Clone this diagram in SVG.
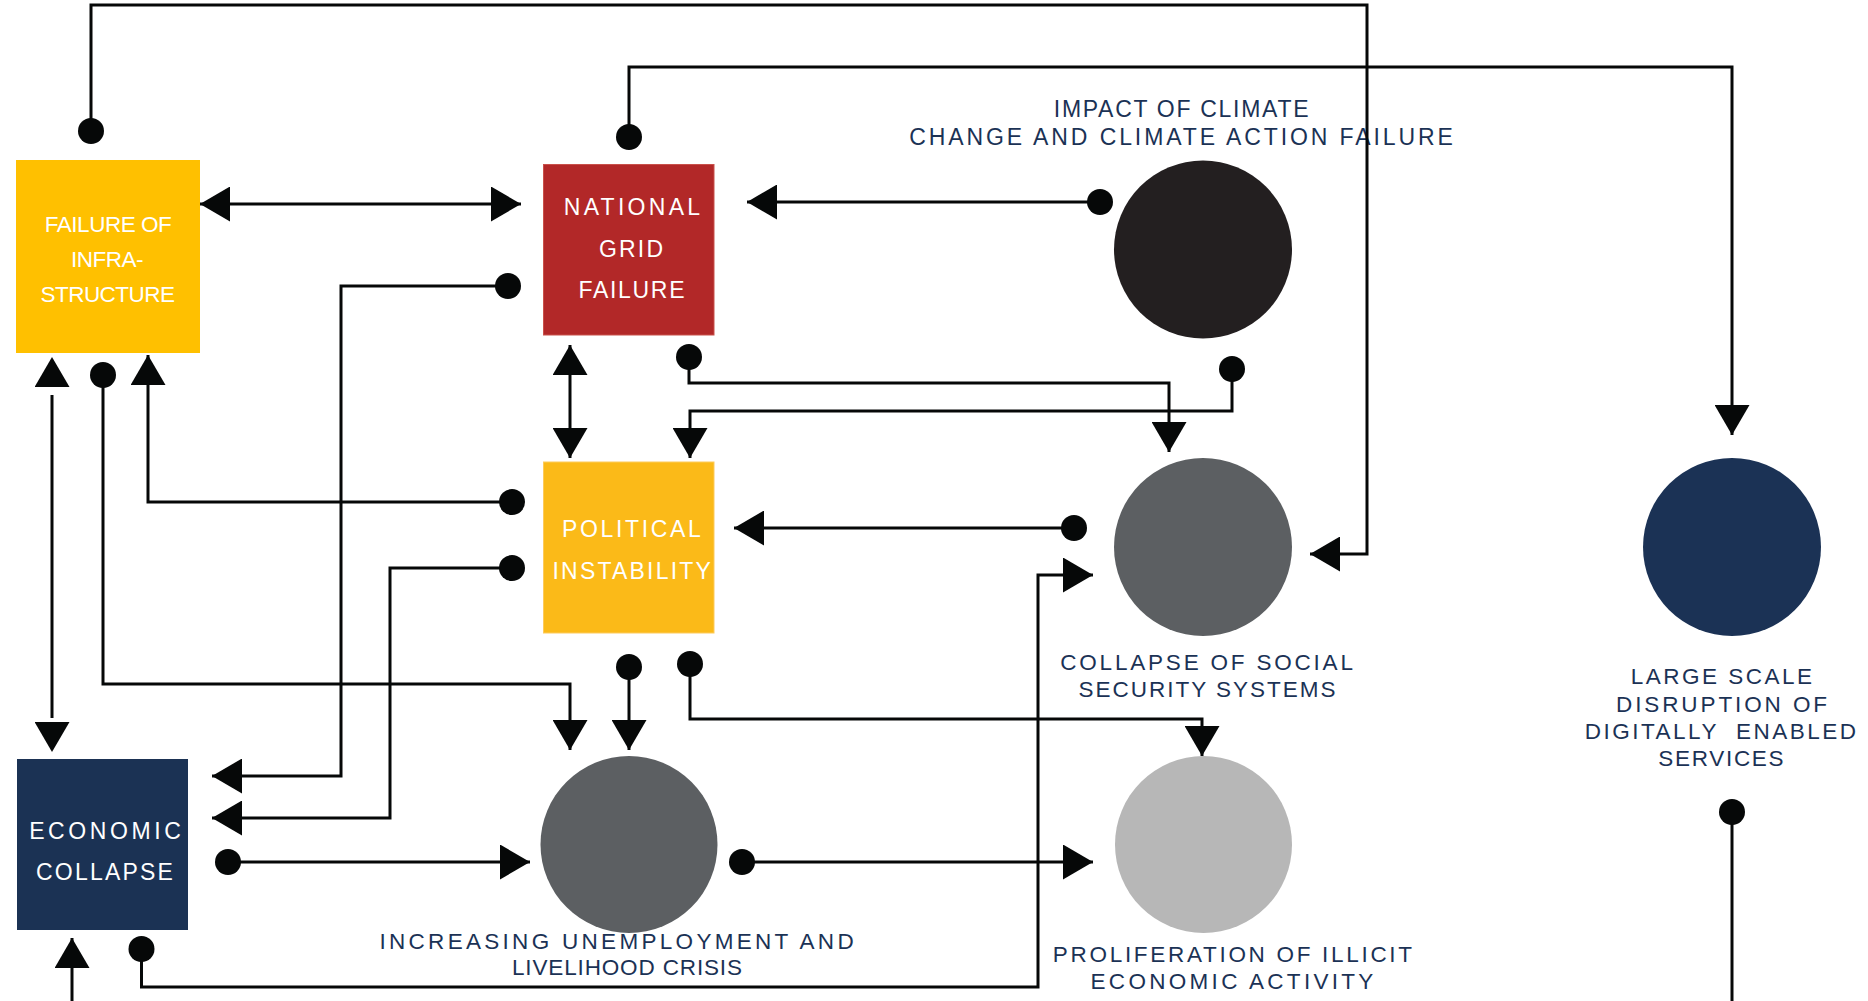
<svg xmlns="http://www.w3.org/2000/svg" width="1868" height="1001" viewBox="0 0 1868 1001">
<style>
.conn{fill:none;stroke:#060808;stroke-width:3}
.bt{font-family:"Liberation Sans",Arial,sans-serif;font-size:23px;fill:#ffffff;text-anchor:middle}
.lb{font-family:"Liberation Sans",Arial,sans-serif;font-size:22.5px;fill:#1B3255;text-anchor:middle}
.fb{font-size:22.5px;letter-spacing:-0.5px}
</style>
<defs>
<marker id="arrow" markerUnits="userSpaceOnUse" viewBox="0 0 30 35" markerWidth="30" markerHeight="35" refX="30" refY="17.5" orient="auto-start-reverse"><path d="M0,0 L30,17.5 L0,35 Z" fill="#060808"/></marker>
<marker id="arrowGap" markerUnits="userSpaceOnUse" viewBox="0 0 38 35" markerWidth="38" markerHeight="35" refX="0" refY="17.5" orient="auto-start-reverse"><path d="M8,0 L38,17.5 L8,35 Z" fill="#060808"/></marker>
<marker id="arrowGapS" markerUnits="userSpaceOnUse" viewBox="0 0 34 35" markerWidth="34" markerHeight="35" refX="0" refY="17.5" orient="auto-start-reverse"><path d="M4,0 L34,17.5 L4,35 Z" fill="#060808"/></marker>
<marker id="dot" markerUnits="userSpaceOnUse" viewBox="-14 -14 28 28" markerWidth="28" markerHeight="28" refX="0" refY="0" orient="auto"><circle r="13" fill="#060808"/></marker>
</defs>
<rect width="1868" height="1001" fill="#ffffff"/>

<g id="failure-infrastructure">
<rect x="16" y="160" width="184" height="193" fill="#FFC000"/>
<text class="bt fb" x="108" y="232">FAILURE OF</text>
<text class="bt fb" x="107" y="267">INFRA-</text>
<text class="bt fb" x="107.5" y="302">STRUCTURE</text>
</g>

<g id="national-grid-failure">
<rect x="543.5" y="164.5" width="170.5" height="170.5" fill="#B22828" stroke="#C9504A" stroke-width="1"/>
<text class="bt" x="633.6" y="215" style="letter-spacing:3.3px">NATIONAL</text>
<text class="bt" x="632.1" y="257" style="letter-spacing:2.2px">GRID</text>
<text class="bt" x="632.3" y="298" style="letter-spacing:1.7px">FAILURE</text>
</g>

<g id="political-instability">
<rect x="543.5" y="462" width="170.5" height="171" fill="#FBBA18" stroke="#FDCB5C" stroke-width="1"/>
<text class="bt" x="632.7" y="537" style="letter-spacing:2.65px">POLITICAL</text>
<text class="bt" x="632.8" y="579" style="letter-spacing:2.2px">INSTABILITY</text>
</g>

<g id="economic-collapse">
<rect x="17" y="759" width="171" height="171" fill="#1B3254"/>
<text class="bt" x="106.8" y="839" style="letter-spacing:3.6px">ECONOMIC</text>
<text class="bt" x="105.6" y="880" style="letter-spacing:2.2px">COLLAPSE</text>
</g>

<g id="climate-change">
<circle cx="1203" cy="249.5" r="89" fill="#231F20"/>
<text class="lb" x="1182" y="117" style="font-size:23px;letter-spacing:1.7px">IMPACT OF CLIMATE</text>
<text class="lb" x="1182.5" y="145" style="font-size:23px;letter-spacing:2.9px">CHANGE AND CLIMATE ACTION FAILURE</text>
</g>

<g id="social-security">
<circle cx="1203" cy="547" r="89" fill="#5C5F62"/>
<text class="lb" x="1208" y="670" style="letter-spacing:2.8px">COLLAPSE OF SOCIAL</text>
<text class="lb" x="1208" y="697" style="letter-spacing:2px">SECURITY SYSTEMS</text>
</g>

<g id="unemployment">
<circle cx="629" cy="844.5" r="88.5" fill="#5C5F62"/>
<text class="lb" x="618.2" y="949" style="letter-spacing:3.3px">INCREASING UNEMPLOYMENT AND</text>
<text class="lb" x="627.4" y="975" style="letter-spacing:0.86px">LIVELIHOOD CRISIS</text>
</g>

<g id="illicit-activity">
<circle cx="1203.5" cy="844.5" r="88.5" fill="#B7B7B7"/>
<text class="lb" x="1233.8" y="962" style="letter-spacing:2.7px">PROLIFERATION OF ILLICIT</text>
<text class="lb" x="1233.6" y="989" style="letter-spacing:3.3px">ECONOMIC ACTIVITY</text>
</g>

<g id="digital-services">
<circle cx="1732" cy="547" r="89" fill="#1B3255"/>
<text class="lb" x="1722.7" y="684" style="letter-spacing:2.5px">LARGE SCALE</text>
<text class="lb" x="1723" y="712" style="letter-spacing:2.9px">DISRUPTION OF</text>
<text class="lb" x="1721.7" y="739" xml:space="preserve" style="letter-spacing:2.5px">DIGITALLY  ENABLED</text>
<text class="lb" x="1721.8" y="766" style="letter-spacing:1.7px">SERVICES</text>
</g>

<g id="connectors">
<path class="conn" d="M91,131 V5 H1367 V554 H1310" marker-start="url(#dot)" marker-end="url(#arrow)"/>
<path class="conn" d="M629,137 V67 H1732 V435" marker-start="url(#dot)" marker-end="url(#arrow)"/>
<path class="conn" d="M200,204 H521" marker-start="url(#arrow)" marker-end="url(#arrow)"/>
<path class="conn" d="M1100,202 H747" marker-start="url(#dot)" marker-end="url(#arrow)"/>
<path class="conn" d="M508,286 H341 V776 H212" marker-start="url(#dot)" marker-end="url(#arrow)"/>
<path class="conn" d="M689,357 V383 H1169 V452" marker-start="url(#dot)" marker-end="url(#arrow)"/>
<path class="conn" d="M1232,369 V411 H690 V458" marker-start="url(#dot)" marker-end="url(#arrow)"/>
<path class="conn" d="M570,345 V458" marker-start="url(#arrow)" marker-end="url(#arrow)"/>
<path class="conn" d="M52,395 V718" marker-start="url(#arrowGap)" marker-end="url(#arrowGapS)"/>
<path class="conn" d="M103,375 V684 H570 V750" marker-start="url(#dot)" marker-end="url(#arrow)"/>
<path class="conn" d="M512,502 H148 V355" marker-start="url(#dot)" marker-end="url(#arrow)"/>
<path class="conn" d="M512,568 H390 V818 H212" marker-start="url(#dot)" marker-end="url(#arrow)"/>
<path class="conn" d="M228,862 H530" marker-start="url(#dot)" marker-end="url(#arrow)"/>
<path class="conn" d="M141.5,949 V987 H1038 V575 H1093" marker-start="url(#dot)" marker-end="url(#arrow)"/>
<path class="conn" d="M72,1001 V938" marker-end="url(#arrow)"/>
<path class="conn" d="M1732,812 V1001" marker-start="url(#dot)"/>
<path class="conn" d="M1074,528 H734" marker-start="url(#dot)" marker-end="url(#arrow)"/>
<path class="conn" d="M629,667 V750" marker-start="url(#dot)" marker-end="url(#arrow)"/>
<path class="conn" d="M690,664 V719 H1202 V756" marker-start="url(#dot)" marker-end="url(#arrow)"/>
<path class="conn" d="M742,862 H1093" marker-start="url(#dot)" marker-end="url(#arrow)"/>
</g>
</svg>
